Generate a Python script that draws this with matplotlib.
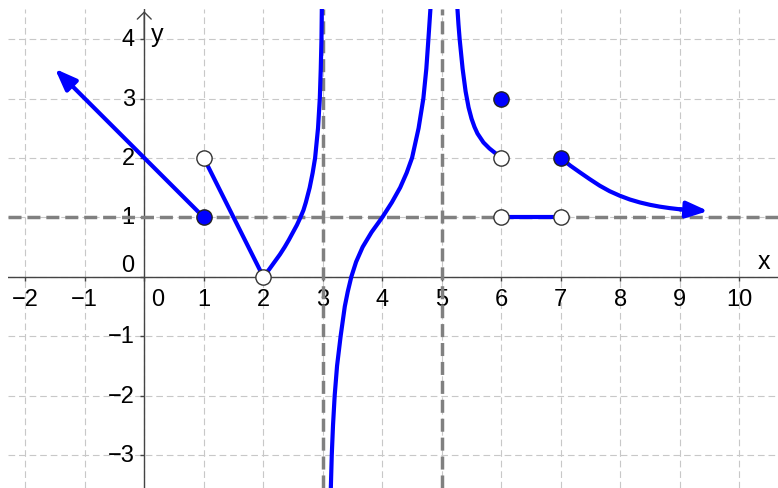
import numpy as np
import matplotlib
matplotlib.use('Agg')
import matplotlib.pyplot as plt

plt.rcParams['font.family'] = ['Liberation Sans', 'DejaVu Sans']

ftsz = 17
blue = '#0000ff'
lwc = 3.0   # curve width

# --- pieces of the function ---
ray_x = [1.0, -1.5]
ray_y = [1.0, 3.5]

seg1_x = [1.0, 2.0]
seg1_y = [2.0, 0.0]

curveA_x = [2.0, 2.1, 2.19, 2.28, 2.36, 2.43, 2.50, 2.565, 2.625, 2.675, 2.715, 2.78, 2.83, 2.871,
            2.92, 2.95, 2.966, 2.978, 2.985]
curveA_y = [0.0, 0.125, 0.25, 0.375, 0.5, 0.62, 0.75, 0.87, 1.0, 1.12, 1.25, 1.5, 1.75, 2.0,
            2.5, 3.0, 3.5, 4.0, 4.6]

curveB_x = [3.134, 3.151, 3.172, 3.20, 3.24, 3.30, 3.37, 3.42, 3.48, 3.56, 3.67, 3.82, 4.0, 4.16,
            4.30, 4.41, 4.50, 4.61, 4.69, 4.74, 4.775, 4.815]
curveB_y = [-3.6, -3.0, -2.5, -2.0, -1.5, -1.0, -0.5, -0.25, 0.0, 0.25, 0.5, 0.75, 1.0, 1.25,
            1.5, 1.75, 2.0, 2.5, 3.0, 3.5, 4.0, 4.6]

curveC_x = [5.257, 5.28, 5.30, 5.35, 5.40, 5.45, 5.50, 5.55, 5.60, 5.70, 5.80, 5.90, 6.0]
curveC_y = [4.6, 4.25, 4.0, 3.5, 3.12, 2.85, 2.66, 2.52, 2.41, 2.26, 2.16, 2.08, 2.0]

seg2_x = [6.0, 7.0]
seg2_y = [1.0, 1.0]

curveD_x = [7.0, 7.16, 7.32, 7.49, 7.655, 7.82, 7.99, 8.16, 8.33, 8.5, 8.66, 8.83, 9.0, 9.475]
curveD_y = [2.0, 1.87, 1.757, 1.64, 1.532, 1.44, 1.364, 1.30, 1.25, 1.21, 1.18, 1.155, 1.135, 1.106]

filled_x = [1, 6, 7]
filled_y = [1, 3, 2]
open_x = [1, 2, 6, 6, 7]
open_y = [2, 0, 2, 1, 1]

asym_v = [3, 5]
asym_h = [1]

xticks = [-2, -1, 0, 1, 2, 3, 4, 5, 6, 7, 8, 9, 10]
yticks = [-3, -2, -1, 0, 1, 2, 3, 4]

fig = plt.figure(figsize=(7.78, 4.89), dpi=100)
ax = fig.add_axes([8/778, 0, 770/778, 479/489])
ax.set_xlim(-2.29, 10.65)
ax.set_ylim(-3.557, 4.507)
for s in ax.spines.values():
    s.set_visible(False)

# grid
ax.set_xticks(xticks)
ax.set_yticks(yticks)
ax.tick_params(length=0, labelbottom=False, labelleft=False)
ax.grid(True, ls=(0, (6, 3.5)), color='#c8c8c8', lw=0.8, zorder=0)

# axes
axc = '#444444'
ax.axhline(0, color=axc, lw=1.0, zorder=2)
ax.axvline(0, color=axc, lw=1.0, zorder=2)
ax.plot(xticks, np.zeros(len(xticks)), ls='none', marker=3, ms=3, mew=1, color=axc, zorder=2)
ax.plot(np.zeros(len(yticks)), yticks, ls='none', marker=0, ms=3, mew=1, color=axc, zorder=2)
ax.annotate('', xy=(0, 4.47), xytext=(0, 4.0),
            arrowprops=dict(arrowstyle='->,head_length=0.5,head_width=0.5', color=axc,
                            lw=1.0, mutation_scale=10, shrinkA=0, shrinkB=0), zorder=2)
ax.annotate('', xy=(10.68, 0), xytext=(10.2, 0),
            arrowprops=dict(arrowstyle='->,head_length=0.5,head_width=0.5', color=axc,
                            lw=1.0, mutation_scale=10, shrinkA=0, shrinkB=0), zorder=2)
ax.text(10.41, 0.26, 'x', fontsize=ftsz+1, ha='center', va='center', zorder=3)
ax.text(0.21, 4.08, 'y', fontsize=ftsz+1, ha='center', va='center', zorder=3)

# tick labels
for xv in xticks:
    lab = str(xv).replace('-', '\u2212')
    xp = 0.23 if xv == 0 else xv
    ax.text(xp, -0.375, lab, fontsize=ftsz, ha='center', va='center', zorder=3)
for yv in yticks:
    lab = str(yv).replace('-', '\u2212')
    yp = 0.19 if yv == 0 else yv
    ax.text(-0.16, yp, lab, fontsize=ftsz, ha='right', va='center', zorder=3)

# asymptotes
ac = '#808080'
for v in asym_v:
    ax.axvline(v, color=ac, lw=2.5, ls=(0, (3.75, 1.7)), zorder=4)
for h in asym_h:
    ax.axhline(h, color=ac, lw=2.5, ls=(0, (3.75, 1.7)), zorder=4)

# function pieces
arr = dict(arrowstyle='-|>,head_length=0.65,head_width=0.25', color=blue, lw=lwc,
           mutation_scale=20, shrinkA=0, shrinkB=0)
ax.annotate('', xy=(ray_x[1], ray_y[1]), xytext=(ray_x[0], ray_y[0]), arrowprops=arr, zorder=5)
ax.plot(seg1_x, seg1_y, color=blue, lw=lwc, zorder=5)
ax.plot(curveA_x, curveA_y, color=blue, lw=lwc, zorder=5, solid_joinstyle='round')
ax.plot(curveB_x, curveB_y, color=blue, lw=lwc, zorder=5, solid_joinstyle='round')
ax.plot(curveC_x, curveC_y, color=blue, lw=lwc, zorder=5, solid_joinstyle='round')
ax.plot(seg2_x, seg2_y, color=blue, lw=lwc, zorder=5)
ax.plot(curveD_x[:-1], curveD_y[:-1], color=blue, lw=lwc, zorder=5, solid_joinstyle='round')
ax.annotate('', xy=(curveD_x[-1], curveD_y[-1]), xytext=(curveD_x[-2], curveD_y[-2]),
            arrowprops=arr, zorder=5)

# points
ax.plot(filled_x, filled_y, ls='none', marker='o', ms=11, mfc=blue, mec='#222222', mew=1.0, zorder=6)
ax.plot(open_x, open_y, ls='none', marker='o', ms=11, mfc='white', mec='#333333', mew=1.0, zorder=6)

plt.savefig('out.png', dpi=100)
